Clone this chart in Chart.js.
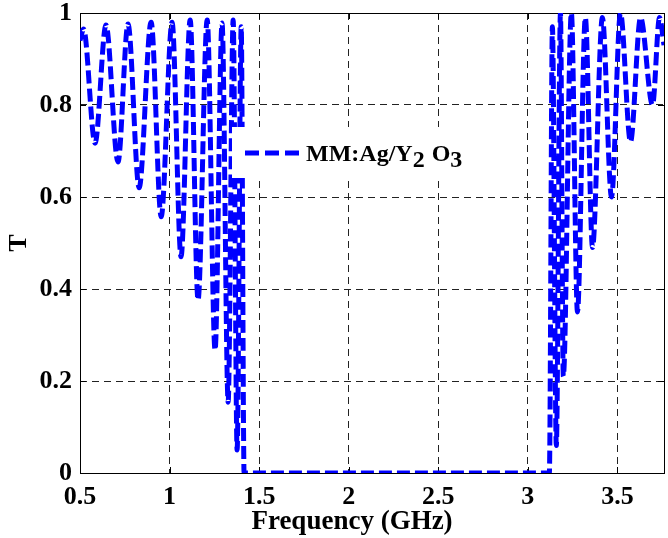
<!DOCTYPE html>
<html>
<head>
<meta charset="utf-8">
<script src="https://cdn.jsdelivr.net/npm/chart.js@4.4.1/dist/chart.umd.min.js"></script>
<style>
  html, body { margin: 0; padding: 0; background: #fff; }
  #wrap { width: 668px; height: 538px; }
</style>
</head>
<body>
<div id="wrap"><canvas id="chart"></canvas></div>
<script>
// frequency (GHz) at each peak / dip
const freq = [
  0.5, 0.52, 0.584, 0.645, 0.712, 0.768, 0.83, 0.897, 0.953, 1.014,
  1.064, 1.115, 1.159, 1.21, 1.254, 1.293, 1.327, 1.355, 1.377, 1.4,
  1.416, 3.12, 3.137, 3.159, 3.182, 3.198, 3.243, 3.277, 3.321, 3.361,
  3.416, 3.467, 3.517, 3.573, 3.629, 3.696, 3.735, 3.76
];
// transmission T
const trans = [
  0.94, 0.965, 0.717, 0.974, 0.676, 0.976, 0.62, 0.98, 0.557, 0.98,
  0.47, 0.985, 0.376, 0.985, 0.267, 0.978, 0.154, 0.985, 0.05, 0.97,
  0, 0, 0.97, 0.06, 1.0, 0.21, 1.0, 0.35, 0.99, 0.49,
  0.99, 0.6, 1.0, 0.72, 0.99, 0.8, 0.99, 0.93
];
const xTicks = [0.5, 1, 1.5, 2, 2.5, 3, 3.5];
const yTicks = [0, 0.2, 0.4, 0.6, 0.8, 1];
const xTitle = "Frequency (GHz)";
// legend text pieces: [text, subscript?]
const legendParts = [["MM:Ag/Y", false], ["2", true], [" O", false], ["3", true]];

const FONT = "'Liberation Serif', 'Times New Roman', serif";
const BLUE = "#0000ff";
const tickFont = { family: FONT, size: 26, weight: "bold", lineHeight: 1 };

const frame = {
  id: "frame",
  beforeDatasetsDraw(chart) {
    const { ctx, chartArea: a, scales } = chart;
    ctx.save();
    ctx.strokeStyle = "#000";
    ctx.lineWidth = 1;
    ctx.setLineDash([]);
    ctx.beginPath();
    xTicks.forEach((v) => {
      const x = Math.round(scales.x.getPixelForValue(v)) + 0.5;
      ctx.moveTo(x, a.bottom); ctx.lineTo(x, a.bottom - 6);
      ctx.moveTo(x, a.top); ctx.lineTo(x, a.top + 6);
    });
    yTicks.forEach((v) => {
      const y = Math.round(scales.y.getPixelForValue(v)) + 0.5;
      ctx.moveTo(a.left, y); ctx.lineTo(a.left + 6, y);
      ctx.moveTo(a.right, y); ctx.lineTo(a.right - 6, y);
    });
    ctx.stroke();
    ctx.strokeRect(Math.round(a.left) + 0.5, Math.round(a.top) + 0.5,
      Math.round(a.right - a.left), Math.round(a.bottom - a.top));
    // x axis title (sits a little left of the plot centre, as in the figure)
    ctx.fillStyle = "#000";
    ctx.font = "bold 27px " + FONT;
    ctx.textAlign = "center";
    ctx.textBaseline = "middle";
    ctx.fillText(xTitle, 352, 522);
    ctx.restore();
  },
};

const legendBox = {
  id: "legendBox",
  afterDatasetsDraw(chart) {
    const { ctx } = chart;
    ctx.save();
    ctx.fillStyle = "#fff";
    ctx.fillRect(232, 127, 246, 51);
    ctx.strokeStyle = BLUE;
    ctx.lineWidth = 5;
    ctx.setLineDash([14, 6]);
    ctx.beginPath();
    ctx.moveTo(245, 153);
    ctx.lineTo(299, 153);
    ctx.stroke();
    ctx.fillStyle = "#000";
    ctx.textBaseline = "alphabetic";
    let x = 306;
    legendParts.forEach(([t, sub]) => {
      ctx.font = "bold 24px " + FONT;
      ctx.fillText(t, x, sub ? 167 : 161);
      x += ctx.measureText(t).width + (sub ? 1 : 0);
    });
    ctx.restore();
  },
};

const ctx = document.getElementById("chart").getContext("2d");
const chart = new Chart(ctx, {
  type: "line",
  data: {
    labels: freq,
    datasets: [
      {
        label: "MM:Ag/Y2 O3",
        data: freq.map((f, i) => ({ x: f, y: trans[i] })),
        borderColor: BLUE,
        borderWidth: 5,
        borderDash: [13, 5],
        fill: false,
        cubicInterpolationMode: "monotone",
        pointRadius: 0,
      },
    ],
  },
  options: {
    responsive: true,
    maintainAspectRatio: false,
    animation: false,
    layout: { padding: { top: 13, right: 4, left: 0, bottom: 0 } },
    scales: {
      x: {
        type: "linear",
        min: 0.5,
        max: 3.76,
        afterBuildTicks: (s) => { s.ticks = xTicks.map((v) => ({ value: v })); },
        afterFit: (s) => { s.height = 65; s.paddingLeft = 0; s.paddingRight = 0; },
        ticks: { color: "#000", font: tickFont, padding: 11, maxRotation: 0, callback: (v) => String(v) },
        grid: { color: "#222", lineWidth: 1, drawTicks: false },
        border: { display: false, dash: [7, 5] },
      },
      y: {
        min: 0,
        max: 1,
        afterBuildTicks: (s) => { s.ticks = yTicks.map((v) => ({ value: v })); },
        afterFit: (s) => { s.width = 80; s.paddingTop = 0; s.paddingBottom = 0; },
        ticks: { color: "#000", font: tickFont, padding: 8, callback: (v) => String(v) },
        grid: { color: "#222", lineWidth: 1, drawTicks: false },
        border: { display: false, dash: [7, 5] },
        title: { display: true, text: "T", color: "#000", font: { family: FONT, size: 26, weight: "bold" }, padding: { top: 4, bottom: 0 } },
      },
    },
    plugins: {
      legend: { display: false },
      tooltip: { enabled: false },
    },
  },
  plugins: [frame, legendBox],
});
</script>
</body>
</html>
